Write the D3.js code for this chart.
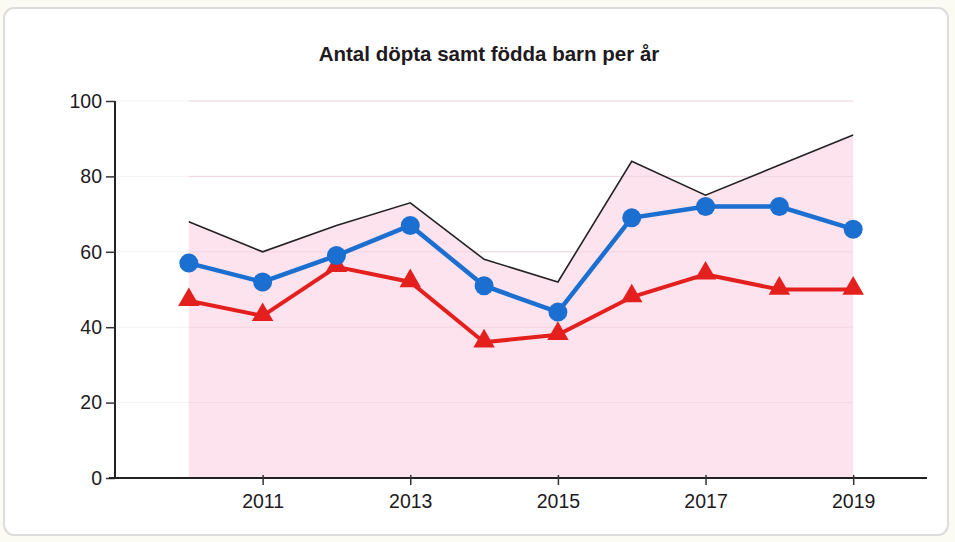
<!DOCTYPE html>
<html>
<head>
<meta charset="utf-8">
<script src="https://cdn.jsdelivr.net/npm/d3@7"></script>
<style>
  body { margin: 0; background: #fbfaf3; }
  text { font-family: "Liberation Sans", Arial, sans-serif; }
</style>
</head>
<body>
<div id="chart"></div>
<script>
const W = 955, H = 542;

const TITLE = "Antal döpta samt födda barn per år";
const years = [2010, 2011, 2012, 2013, 2014, 2015, 2016, 2017, 2018, 2019];
const totalBorn = [68, 60, 67, 73, 58, 52, 84, 75, 83, 91];
const baptisedA = [57, 52, 59, 67, 51, 44, 69, 72, 72, 66];
const baptisedB = [47, 43, 56, 52, 36, 38, 48, 54, 50, 50];
const yTicks = [0, 20, 40, 60, 80, 100];
const xTicks = [2011, 2013, 2015, 2017, 2019];

const COLOR_PINK = "#fde3ee";
const COLOR_BLUE = "#1b6fd0";
const COLOR_RED = "#e3201e";
const COLOR_TEXT = "#1e1a1e";

// -------------------------------------------------

const svg = d3.select("#chart").append("svg")
    .attr("width", W)
    .attr("height", H);

// card background
svg.append("rect")
    .attr("x", 4).attr("y", 8)
    .attr("width", 944).attr("height", 527)
    .attr("rx", 10)
    .attr("fill", "#ffffff")
    .attr("stroke", "#dcdcdc")
    .attr("stroke-width", 2);

svg.append("text")
    .attr("x", 489)
    .attr("y", 61)
    .attr("text-anchor", "middle")
    .attr("font-size", 20.5)
    .attr("font-weight", "bold")
    .attr("fill", COLOR_TEXT)
    .text(TITLE);

const x = d3.scaleLinear().domain([2009, 2020]).range([115, 927]);
const y = d3.scaleLinear().domain([0, 100]).range([478, 101]);

// grid lines (faint)
svg.append("g")
    .selectAll("line")
    .data(yTicks.filter(d => d > 0))
    .join("line")
        .attr("x1", x(2009)).attr("x2", x(2019))
        .attr("y1", d => y(d)).attr("y2", d => y(d))
        .attr("stroke", "#f2f2f2")
        .attr("stroke-width", 1);

// pink area under total line
const area = d3.area()
    .x((d, i) => x(years[i]))
    .y0(y(0))
    .y1(d => y(d));

svg.append("path")
    .attr("d", area(totalBorn))
    .attr("fill", COLOR_PINK);

// grid lines inside pink area
svg.append("g")
    .selectAll("line")
    .data(yTicks.filter(d => d > 0))
    .join("line")
        .attr("x1", x(2010)).attr("x2", x(2019))
        .attr("y1", d => y(d)).attr("y2", d => y(d))
        .attr("stroke", "#f3d5e2")
        .attr("stroke-width", 1);

// axes
const yAxis = d3.axisLeft(y)
    .tickValues(yTicks)
    .tickSize(9)
    .tickPadding(4);

const gy = svg.append("g")
    .attr("transform", "translate(" + x(2009) + ",0)")
    .call(yAxis);

const xAxis = d3.axisBottom(x)
    .tickValues(xTicks)
    .tickFormat(d3.format("d"))
    .tickSize(7)
    .tickPadding(6);

const gx = svg.append("g")
    .attr("transform", "translate(0," + y(0) + ")")
    .call(xAxis);

gy.select(".domain").attr("d", "M0," + y(0) + "V" + y(100)).attr("stroke", "#222").attr("stroke-width", 2);
gx.select(".domain").attr("d", "M" + (x(2009) - 6) + ",0H" + x(2020)).attr("stroke", "#222").attr("stroke-width", 2);

svg.selectAll(".tick line").attr("stroke", "#333").attr("stroke-width", 1.5);
svg.selectAll(".tick text")
    .attr("font-size", 19.5)
    .attr("fill", COLOR_TEXT)
    .attr("font-family", "'Liberation Sans', Arial, sans-serif");
gx.selectAll(".tick line").attr("y1", -3);
gx.selectAll(".tick text").attr("y", 30).attr("dy", null);
gy.selectAll(".tick text").attr("x", -13);

// lines
const line = d3.line()
    .x((d, i) => x(years[i]))
    .y(d => y(d));

svg.append("path")
    .attr("d", line(totalBorn))
    .attr("fill", "none")
    .attr("stroke", "#222")
    .attr("stroke-width", 1.6);

svg.append("path")
    .attr("d", line(baptisedB))
    .attr("fill", "none")
    .attr("stroke", COLOR_RED)
    .attr("stroke-width", 4);

svg.append("path")
    .attr("d", line(baptisedA))
    .attr("fill", "none")
    .attr("stroke", COLOR_BLUE)
    .attr("stroke-width", 4.5);

const tri = d3.symbol().type(d3.symbolTriangle).size(200);

svg.append("g")
    .selectAll("path")
    .data(baptisedB)
    .join("path")
        .attr("d", tri)
        .attr("transform", (d, i) => "translate(" + x(years[i]) + "," + (y(d) - 1) + ")")
        .attr("fill", COLOR_RED);

svg.append("g")
    .selectAll("circle")
    .data(baptisedA)
    .join("circle")
        .attr("cx", (d, i) => x(years[i]))
        .attr("cy", d => y(d))
        .attr("r", 9.5)
        .attr("fill", COLOR_BLUE);
</script>
</body>
</html>
